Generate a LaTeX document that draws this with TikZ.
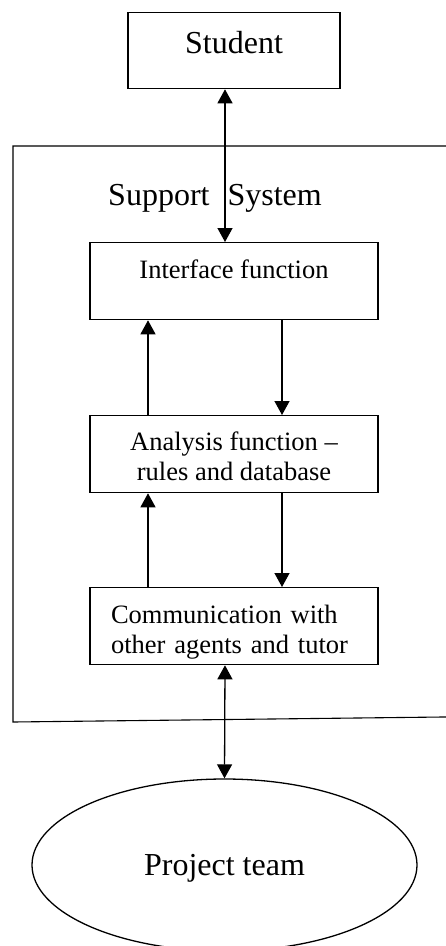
\documentclass[tikz,border=0pt]{standalone}
\usepackage{fontspec}
\setmainfont{Liberation Serif}
\usetikzlibrary{arrows.meta,shapes.geometric}

\begin{document}
\begin{tikzpicture}
					[x=1pt,y=-1pt,
					box/.style={rectangle,draw=black,line width=1.3pt,inner xsep=0pt,minimum width=288pt,font=\fontsize{26.5}{30}\selectfont},
					bigbox/.style={box,minimum width=212pt,font=\fontsize{32}{38}\selectfont},
					ell/.style={ellipse,draw=black,line width=1.3pt,inner sep=0pt,minimum width=385pt,minimum height=172pt,font=\fontsize{32}{38}\selectfont},
					link/.style={line width=1.3pt,-{Triangle[length=14pt,width=15pt]}},
					both/.style={line width=1.3pt,{Triangle[length=14pt,width=15pt]}-{Triangle[length=14pt,width=15pt]}}]
					\useasboundingbox (0,0) rectangle (446,946);
					\clip (0,0) rectangle (446,946);
					\draw[line width=1.1pt] (460,146) -- (13,146) -- (13,722) -- (460,716.8);
					\node[bigbox,anchor=north,text height=21pt,text depth=15pt,inner ysep=20pt] (student) at (234,12) {Student};
					\node[font=\fontsize{32}{38}\selectfont,anchor=base] (sys) at (215,205) {Support\hspace{18pt}System};
					\node[box,anchor=north,text height=18pt,text depth=23pt,inner ysep=18pt] (iface) at (234,242) {Interface function};
					\node[box,anchor=north,align=center,text height=53pt,text depth=0pt,inner ysep=12pt] (anal) at (234,415) {Analysis function --\\rules and database};
					\node[box,anchor=north,align=left,text width=246pt,inner xsep=21pt,text height=25pt,text depth=30pt,inner ysep=11pt] (comm) at (234,587) {Communication with\\other agents and tutor};
					\node[ell,text depth=0pt] (team) at (224.5,865) {Project team};
					\path ([xshift=-9pt]student.south) edge[both] ([xshift=-9pt]iface.north);
					\path ([xshift=-86pt]anal.north) edge[link] ([xshift=-86pt]iface.south);
					\path ([xshift=48pt]iface.south) edge[link] ([xshift=48pt]anal.north);
					\path ([xshift=-86pt]comm.north) edge[link] ([xshift=-86pt]anal.south);
					\path ([xshift=48pt]anal.south) edge[link] ([xshift=48pt]comm.north);
					\path ([xshift=-9pt]comm.south) edge[both] (team.north);
\end{tikzpicture}
\end{document}
